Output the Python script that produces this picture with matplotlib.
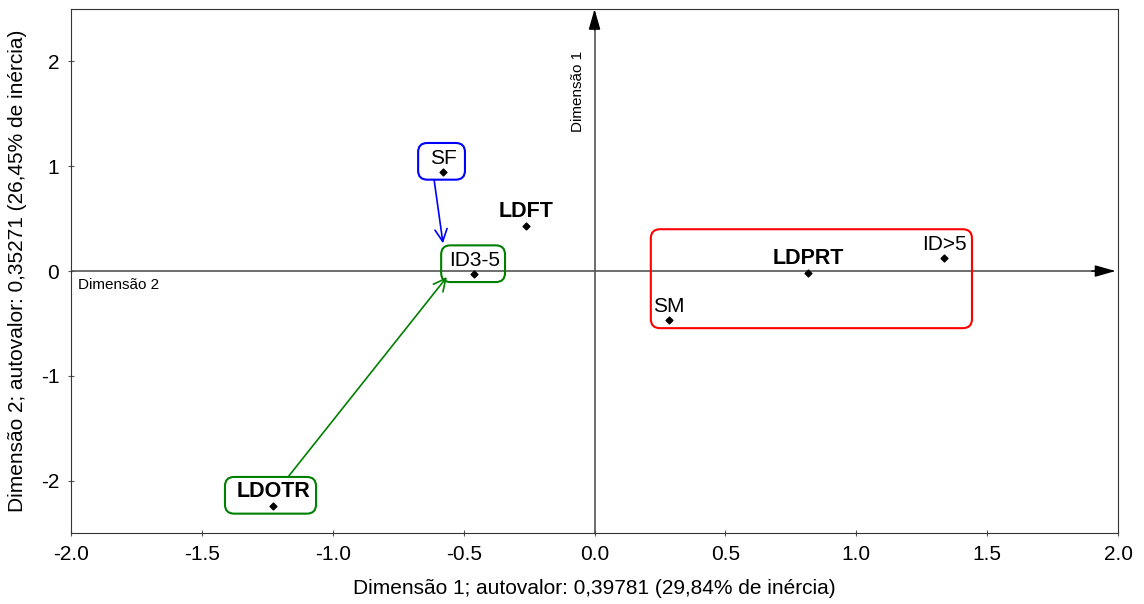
import numpy as np
import matplotlib.pyplot as plt
from matplotlib.patches import FancyBboxPatch

plt.rcParams['font.family'] = ['Liberation Sans', 'DejaVu Sans']
plt.rcParams['axes.unicode_minus'] = False

# ===== DATA =====
labels = ["SF", "LDFT", "ID3-5", "LDPRT", "ID>5", "SM", "LDOTR"]
dim1 = [-0.579, -0.262, -0.460, 0.816, 1.335, 0.285, -1.228]
dim2 = [0.947, 0.430, -0.030, -0.020, 0.124, -0.470, -2.240]
is_bold = [False, True, False, True, False, False, True]

# groups highlighted with a box: members, colour, left/right padding
groups = [
    (["SF"], "blue", 0.095, 0.084),
    (["ID3-5"], "green", 0.126, 0.118),
    (["LDOTR"], "green", 0.184, 0.164),
    (["SM", "LDPRT", "ID>5"], "red", 0.07, 0.107),
]
# arrows between groups (from, to)
links = [("SF", "ID3-5", "blue"), ("LDOTR", "ID3-5", "green")]

xlabel = "Dimensão 1; autovalor: 0,39781 (29,84% de inércia)"
ylabel = "Dimensão 2; autovalor: 0,35271 (26,45% de inércia)"

pos = {l: (x, y) for l, x, y in zip(labels, dim1, dim2)}

# ===== PLOT =====
fig = plt.figure(figsize=(11.44, 6.04), dpi=100)
ax = fig.add_axes([0.0621, 0.1175, 0.9152, 0.8675])
ax.set_xlim(-2.0, 2.0)
ax.set_ylim(-2.5, 2.5)

# axis lines through origin
axc = "#555555"
ax.plot([-2.0, 1.98], [0, 0], color=axc, lw=1.2, zorder=1)
ax.plot([0, 0], [-2.5, 2.45], color=axc, lw=1.2, zorder=1)
ax.annotate("", xy=(1.99, 0), xytext=(1.9, 0),
            arrowprops=dict(arrowstyle="-|>,head_width=0.2,head_length=0.7",
                            color="black", lw=1.0,
                            mutation_scale=18, shrinkA=0, shrinkB=0))
ax.annotate("", xy=(0, 2.5), xytext=(0, 2.3),
            arrowprops=dict(arrowstyle="-|>,head_width=0.2,head_length=0.7",
                            color="black", lw=1.0,
                            mutation_scale=18, shrinkA=0, shrinkB=0))
ax.text(-1.975, -0.07, "Dimensão 2", fontsize=11, ha="left", va="top")
ax.text(-0.035, 1.71, "Dimensão 1", fontsize=11, ha="right", va="center",
        rotation=90)

# points and labels
ax.scatter(dim1, dim2, marker="D", s=12, color="black", zorder=3)
for l, x, y, b in zip(labels, dim1, dim2, is_bold):
    ax.annotate(l, (x, y), xytext=(0, 3), textcoords="offset points",
                ha="center", va="bottom",
                fontsize=15.5 if b else 15,
                fontweight="bold" if b else "normal")

# group boxes around label + point
aspect = (5.0 / 524) / (4.0 / 1047)
boxes = {}
for members, col, pl, pr in groups:
    xs = [pos[m][0] for m in members]
    ys = [pos[m][1] for m in members]
    x0, x1 = min(xs) - pl, max(xs) + pr
    y0 = min(ys) - 0.075
    y1 = max(ys) + 0.275
    boxes[members[0]] = (x0, y0, x1, y1)
    ax.add_patch(FancyBboxPatch((x0, y0), x1 - x0, y1 - y0,
                                boxstyle="round,pad=0,rounding_size=0.035",
                                mutation_aspect=aspect, fill=False,
                                edgecolor=col, lw=1.5, zorder=2))

# arrows between boxes
for a, b, col in links:
    ax0, ay0, ax1, ay1 = boxes[a]
    bx0, by0, bx1, by1 = boxes[b]
    if pos[a][1] > pos[b][1]:
        start = (pos[a][0] - 0.034, ay0)
        end = (pos[a][0], by1 + 0.02)
    else:
        start = (pos[a][0] + 0.057, ay1)
        end = (bx0 + 0.022, pos[b][1] - 0.027)
    ax.annotate("", xy=end, xytext=start,
                arrowprops=dict(arrowstyle="->", color=col, lw=1.2,
                                mutation_scale=22, shrinkA=0, shrinkB=0))

ticks = np.arange(-2.0, 2.01, 0.5)
ax.set_xticks(ticks)
ax.set_xticklabels([f"{v:.1f}" for v in ticks])
ax.set_yticks([-2, -1, 0, 1, 2])
ax.tick_params(labelsize=15, direction="inout", length=5, color=axc, pad=6)
for s in ax.spines.values():
    s.set_color("#333333")
ax.set_xlabel(xlabel, fontsize=15, labelpad=11)
ax.set_ylabel(ylabel, fontsize=15, labelpad=10)

fig.savefig("out.png", dpi=100)
